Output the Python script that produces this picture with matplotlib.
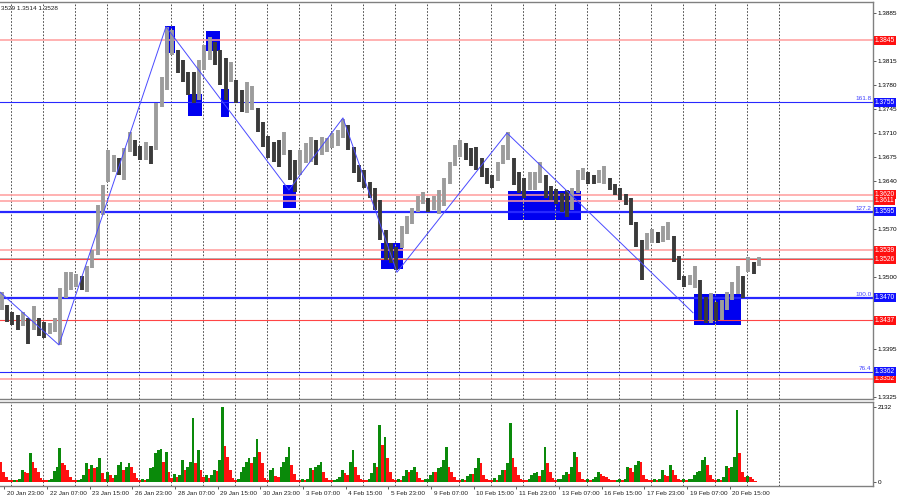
import matplotlib
matplotlib.use('Agg')
import matplotlib.pyplot as plt
import numpy as np

plt.rcParams['font.family'] = ['Liberation Sans', 'DejaVu Sans']

# hour 0 = 20 Jan 23:00, one time label every 32 hours
time_labels = ['20 Jan 23:00', '22 Jan 07:00', '23 Jan 15:00', '26 Jan 23:00', '28 Jan 07:00',
               '29 Jan 15:00', '30 Jan 23:00', '3 Feb 07:00', '4 Feb 15:00', '5 Feb 23:00',
               '9 Feb 07:00', '10 Feb 15:00', '11 Feb 23:00', '13 Feb 07:00', '16 Feb 15:00',
               '17 Feb 23:00', '19 Feb 07:00', '20 Feb 15:00']
label_step = 32

# 4-hour price bars, first one centred on hour -2
bar_start = -2
bar_step = 4
highs = [1.3478, 1.3459, 1.3449, 1.3445, 1.3449, 1.3440, 1.3458, 1.3440, 1.3434, 1.3433,
         1.3440, 1.3484, 1.3507, 1.3507, 1.3504, 1.3502, 1.3516, 1.3539, 1.3605, 1.3634,
         1.3685, 1.3678, 1.3674, 1.3688, 1.3711, 1.3700, 1.3691, 1.3697, 1.3691, 1.3754,
         1.3792, 1.3865, 1.3860, 1.3831, 1.3816, 1.3799, 1.3799, 1.3816, 1.3838, 1.3850,
         1.3843, 1.3831, 1.3819, 1.3814, 1.3787, 1.3773, 1.3784, 1.3779, 1.3746, 1.3726,
         1.3706, 1.3697, 1.3700, 1.3711, 1.3685, 1.3671, 1.3685, 1.3695, 1.3704, 1.3700,
         1.3704, 1.3703, 1.3710, 1.3714, 1.3730, 1.3722, 1.3690, 1.3663, 1.3656, 1.3639,
         1.3630, 1.3612, 1.3569, 1.3550, 1.3544, 1.3574, 1.3589, 1.3601, 1.3618, 1.3624,
         1.3615, 1.3618, 1.3627, 1.3644, 1.3668, 1.3693, 1.3700, 1.3695, 1.3688, 1.3690,
         1.3674, 1.3659, 1.3649, 1.3668, 1.3693, 1.3711, 1.3674, 1.3653, 1.3644, 1.3653,
         1.3653, 1.3668, 1.3649, 1.3633, 1.3628, 1.3623, 1.3627, 1.3630, 1.3656, 1.3659,
         1.3653, 1.3649, 1.3656, 1.3662, 1.3644, 1.3636, 1.3630, 1.3621, 1.3615, 1.3580,
         1.3554, 1.3564, 1.3570, 1.3566, 1.3574, 1.3580, 1.3560, 1.3531, 1.3502, 1.3503,
         1.3516, 1.3496, 1.3471, 1.3477, 1.3464, 1.3467, 1.3478, 1.3493, 1.3516, 1.3502,
         1.3529, 1.3522, 1.3529]
lows = [1.3452, 1.3434, 1.3430, 1.3423, 1.3429, 1.3402, 1.3423, 1.3414, 1.3411, 1.3417,
        1.3420, 1.3401, 1.3469, 1.3481, 1.3485, 1.3481, 1.3478, 1.3513, 1.3532, 1.3590,
        1.3639, 1.3653, 1.3649, 1.3642, 1.3682, 1.3677, 1.3671, 1.3671, 1.3665, 1.3685,
        1.3748, 1.3773, 1.3824, 1.3798, 1.3784, 1.3765, 1.3754, 1.3758, 1.3802, 1.3816,
        1.3809, 1.3780, 1.3758, 1.3784, 1.3754, 1.3741, 1.3739, 1.3744, 1.3711, 1.3690,
        1.3674, 1.3668, 1.3660, 1.3678, 1.3642, 1.3624, 1.3649, 1.3666, 1.3668, 1.3663,
        1.3678, 1.3682, 1.3688, 1.3691, 1.3703, 1.3685, 1.3652, 1.3639, 1.3630, 1.3615,
        1.3598, 1.3554, 1.3525, 1.3520, 1.3510, 1.3542, 1.3563, 1.3577, 1.3595, 1.3607,
        1.3595, 1.3598, 1.3592, 1.3604, 1.3636, 1.3662, 1.3675, 1.3671, 1.3662, 1.3656,
        1.3646, 1.3636, 1.3630, 1.3640, 1.3665, 1.3671, 1.3634, 1.3623, 1.3615, 1.3627,
        1.3627, 1.3637, 1.3615, 1.3612, 1.3607, 1.3595, 1.3588, 1.3598, 1.3623, 1.3642,
        1.3636, 1.3636, 1.3637, 1.3636, 1.3627, 1.3620, 1.3612, 1.3605, 1.3576, 1.3544,
        1.3496, 1.3539, 1.3550, 1.3550, 1.3551, 1.3554, 1.3522, 1.3496, 1.3485, 1.3488,
        1.3484, 1.3437, 1.3433, 1.3433, 1.3436, 1.3437, 1.3452, 1.3467, 1.3475, 1.3469,
        1.3507, 1.3504, 1.3516]

# tick volume, 2-hour bars
vol_start = -2.5
vol_step = 2
volumes = [580, 295, 130, 57, 57, 66, 57, 76, 342, 295,
           266, 817, 580, 390, 295, 105, 57, 48, 57, 76,
           323, 437, 960, 550, 485, 342, 152, 57, 48, 57,
           76, 200, 532, 361, 485, 390, 437, 675, 247, 76,
           295, 200, 105, 200, 485, 580, 342, 437, 532, 437,
           247, 105, 57, 76, 57, 95, 390, 437, 817, 912,
           931, 580, 865, 295, 105, 228, 152, 200, 627, 342,
           437, 580, 1815, 532, 912, 342, 133, 200, 105, 200,
           342, 323, 627, 2132, 1035, 722, 342, 105, 57, 76,
           295, 437, 580, 675, 532, 722, 1216, 865, 532, 105,
           57, 342, 390, 171, 133, 437, 580, 722, 1007, 485,
           228, 57, 57, 76, 57, 95, 390, 342, 437, 485,
           580, 295, 105, 57, 48, 57, 76, 152, 342, 247,
           200, 580, 912, 437, 200, 76, 57, 48, 76, 247,
           532, 437, 1625, 1055, 1292, 675, 295, 76, 57, 76,
           57, 171, 342, 295, 342, 437, 295, 105, 57, 76,
           95, 200, 295, 295, 390, 437, 627, 1007, 437, 295,
           152, 57, 57, 76, 57, 171, 228, 228, 390, 675,
           532, 200, 76, 57, 57, 105, 57, 200, 342, 342,
           532, 1672, 675, 437, 200, 76, 57, 57, 76, 200,
           247, 295, 171, 342, 1007, 532, 295, 105, 57, 76,
           95, 200, 295, 228, 437, 865, 722, 295, 76, 57,
           76, 57, 95, 152, 295, 228, 171, 133, 76, 57,
           48, 57, 76, 57, 95, 437, 390, 295, 485, 608,
           580, 200, 76, 57, 57, 76, 57, 95, 342, 200,
           171, 485, 342, 200, 76, 57, 76, 57, 76, 95,
           200, 295, 323, 627, 722, 485, 200, 76, 57, 76,
           57, 152, 456, 390, 437, 703, 2052, 817, 295, 152,
           171, 133, 76, 38]
vol_max = 2132

# horizontal levels
pink_levels = [1.3845, 1.3620, 1.3611, 1.3539, 1.3352]
red_levels = [1.3437, 1.3526]
bid_price = 1.3528
blue_levels = [1.3755, 1.3595, 1.3470, 1.3362]
blue_widths = [0.8, 1.6, 1.6, 0.8]
fib_labels = ['161.8', '127.2', '100.0', '76.4']

# zigzag
zz_hours = [-3.2, 41.0, 121.3, 213.5, 254.0, 294.5, 377.0, 516.5]
zz_prices = [1.3478, 1.3401, 1.3865, 1.3627, 1.3732, 1.3507, 1.3710, 1.3448]

# blue zones
box_start = [120.5, 137.6, 151.1, 162.5, 209.0, 282.5, 377.8, 517.3]
box_end = [128.0, 148.5, 161.8, 168.5, 218.8, 299.0, 432.5, 552.5]
box_top = [1.3866, 1.3767, 1.3859, 1.3774, 1.3634, 1.3550, 1.3625, 1.3475]
box_bottom = [1.3827, 1.3735, 1.3830, 1.3733, 1.3601, 1.3512, 1.3583, 1.3430]

grid_hours = np.arange(5, 582, 24)
price_ticks = np.arange(1.3325, 1.38851, 0.0035)

x_min, x_max = -3.2, 651.5
fs = 4.6
grey = '#808080'
dash = (0, (2.0, 2.0))

fig = plt.figure(figsize=(9, 5), dpi=100)
ax = fig.add_axes([0, 1 - 399 / 500, 873 / 900, 397 / 500])
axv = fig.add_axes([0, 1 - 486 / 500, 873 / 900, 84 / 500], sharex=ax)

# --- price panel ---
ax.set_xlim(x_min, x_max)
ax.set_ylim(1.33222, 1.39010)

for h in grid_hours:
    ax.axvline(h, color='#303030', lw=0.6, ls=dash, zorder=1)

for s, e, t, b in zip(box_start, box_end, box_top, box_bottom):
    ax.fill_between([s, e], b, t, color='#0000f0', lw=0, zorder=2)
    for h in grid_hours:
        if s < h < e:
            ax.plot([h, h], [b, t], color='#ffff40', lw=0.6, ls=dash, zorder=2.2)

for p in pink_levels:
    ax.axhline(p, color='#ff9c9c', lw=1.1, zorder=2.5)
ax.axhline(bid_price, color='#b0b0b0', lw=0.7, zorder=2.5)
for p in red_levels:
    ax.axhline(p, color='#ff4545', lw=0.8, zorder=2.5)
for p, w, lab in zip(blue_levels, blue_widths, fib_labels):
    ax.axhline(p, color='#2828ff', lw=w, zorder=2.5)
    ax.annotate(lab, xy=(1, p), xycoords=('axes fraction', 'data'), xytext=(-1, 0.6),
                textcoords='offset points', ha='right', va='bottom', fontsize=fs,
                color='#4040ff', zorder=6)

bar_hours = bar_start + bar_step * np.arange(len(highs))
mids = (np.array(highs) + np.array(lows)) / 2
bar_colors = ['#9c9c9c' if i == 0 or mids[i] >= mids[i - 1] else '#3a3a3a'
              for i in range(len(mids))]
ax.vlines(bar_hours, lows, highs, colors=bar_colors, lw=2.8, zorder=4)

ax.plot(zz_hours, zz_prices, color='#4a4aff', lw=0.7, zorder=5)

tag_levels = pink_levels + red_levels
all_tags = tag_levels + blue_levels

# tick labels hidden behind the price tags are left out
shown_ticks = [p for p in price_ticks if min(abs(p - t) for t in all_tags) > 0.0007]
ax.yaxis.tick_right()
ax.set_yticks(shown_ticks)
ax.set_yticklabels([f'{p:.4f}' for p in shown_ticks])
ax.tick_params(axis='y', length=2, width=0.6, pad=1.5, labelsize=fs, color='#404040')
ax.tick_params(axis='x', bottom=False, labelbottom=False)
ax.spines['left'].set_visible(False)
for side in ['top', 'right', 'bottom']:
    ax.spines[side].set_color(grey)
    ax.spines[side].set_linewidth(1.0)

tag_colors = ['#ff1010'] * len(tag_levels) + ['#1010ff'] * len(blue_levels)
for p, c in zip(all_tags, tag_colors):
    ax.annotate(f'{p:.4f}', xy=(1, p), xycoords=('axes fraction', 'data'), xytext=(1.2, 0),
                textcoords='offset points', ha='left', va='center', fontsize=fs + 0.2,
                color='white', annotation_clip=False, zorder=7,
                bbox=dict(boxstyle='square,pad=0.14', fc=c, ec='none'))

fig.text(0.001, 1 - 8 / 500, '3529 1.3514 1.3528', fontsize=fs, color='#202020',
         va='center', ha='left')

# --- volume panel ---
vol_hours = vol_start + vol_step * np.arange(len(volumes))
vol_colors = ['#ff1010' if i == 0 or volumes[i] <= volumes[i - 1] else '#0a8a0a'
              for i in range(len(volumes))]
axv.bar(vol_hours, volumes, width=1.9, color=vol_colors, lw=0, zorder=3)
for h in grid_hours:
    axv.axvline(h, color='#303030', lw=0.6, ls=dash, zorder=1)
axv.set_ylim(-114, 2274)
axv.yaxis.tick_right()
axv.set_yticks([0, vol_max])
axv.set_yticklabels(['0', str(vol_max)])
axv.tick_params(axis='y', length=2, width=0.6, pad=1.5, labelsize=fs, color='#404040')

tick_hours = label_step * np.arange(len(time_labels))
axv.set_xticks(tick_hours)
axv.set_xticklabels([])
axv.tick_params(axis='x', length=2, width=0.6, color='#404040')
for h, lab in zip(tick_hours, time_labels):
    axv.annotate(lab, xy=(h, 0), xycoords=('data', 'axes fraction'), xytext=(2.0, -3.5),
                 textcoords='offset points', ha='left', va='top', fontsize=fs,
                 color='#202020', annotation_clip=False)
axv.spines['left'].set_visible(False)
for side in ['top', 'right', 'bottom']:
    axv.spines[side].set_color(grey)
    axv.spines[side].set_linewidth(1.0)

fig.savefig('out.png', dpi=100, facecolor='white')
